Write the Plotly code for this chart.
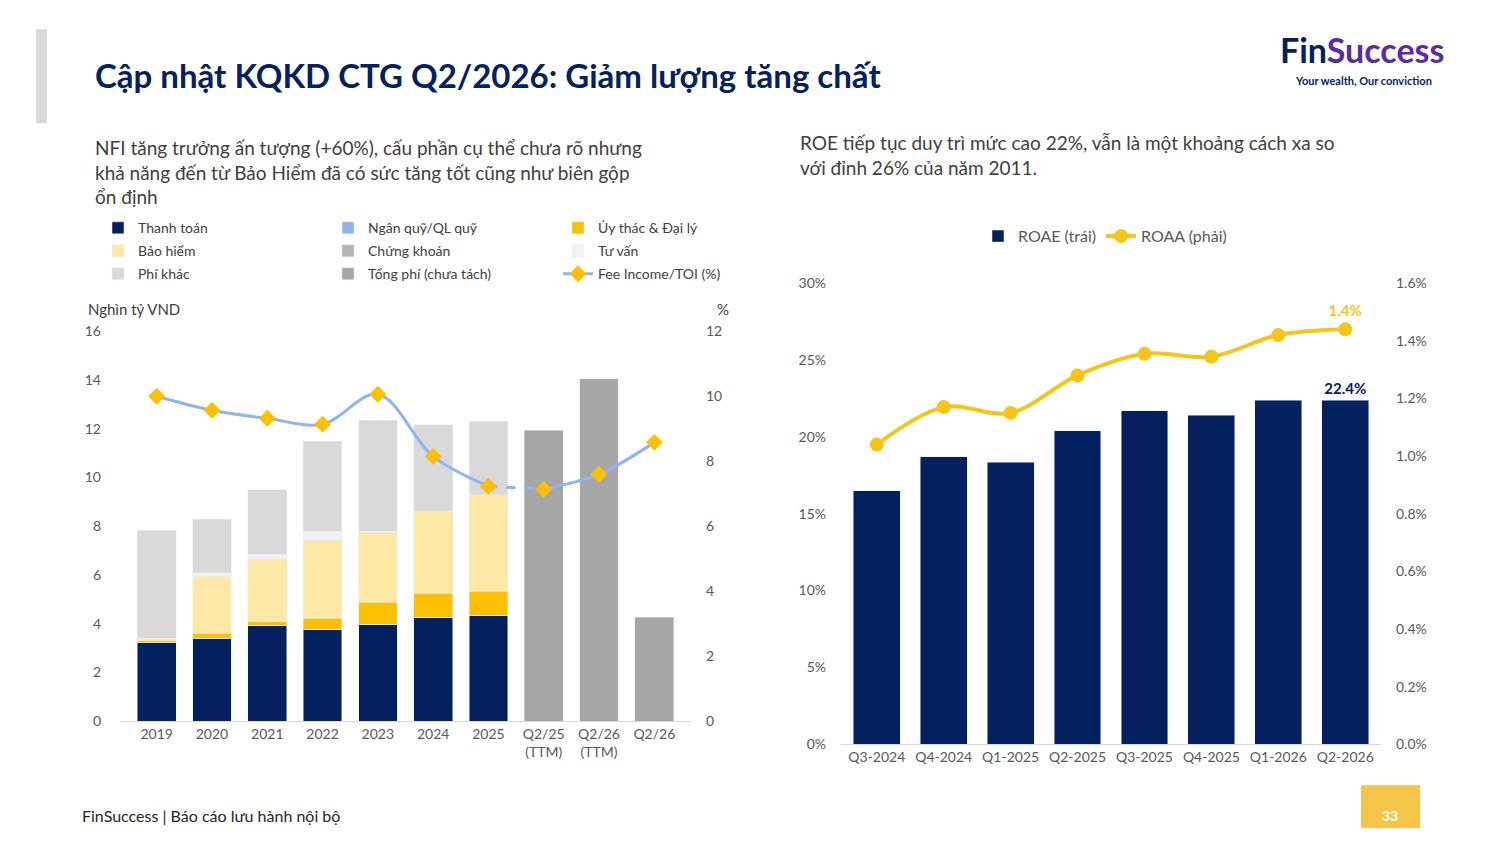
import plotly.graph_objects as go

W, H = 1484, 828

# left chart data (nghin ty VND)
years = ["2019", "2020", "2021", "2022", "2023", "2024", "2025",
         "Q2/25<br>(TTM)", "Q2/26<br>(TTM)", "Q2/26"]
thanh_toan = [3.25, 3.4, 3.93, 3.77, 3.98, 4.26, 4.34, None, None, None]
ngan_quy = [0, 0, 0, 0, 0, 0, 0, None, None, None]
uy_thac = [0.05, 0.2, 0.15, 0.45, 0.9, 0.99, 0.99, None, None, None]
bao_hiem = [0.1, 2.35, 2.56, 3.2, 2.87, 3.36, 3.97, None, None, None]
chung_khoan = [0, 0, 0, 0, 0, 0, 0, None, None, None]
tu_van = [0, 0.15, 0.21, 0.37, 0.05, 0, 0, None, None, None]
phi_khac = [4.43, 2.18, 2.65, 3.69, 4.54, 3.56, 3.0, None, None, None]
tong_phi = [None] * 7 + [11.93, 14.06, 4.26]
fee_toi = [10.0, 9.57, 9.32, 9.14, 10.06, 8.15, 7.23, 7.14, 7.6, 8.58]

# right chart data
quarters = ["Q3-2024", "Q4-2024", "Q1-2025", "Q2-2025",
            "Q3-2025", "Q4-2025", "Q1-2026", "Q2-2026"]
roae = [16.5, 18.7, 18.35, 20.4, 21.7, 21.4, 22.4, 22.4]
roaa = [1.04, 1.17, 1.15, 1.28, 1.355, 1.345, 1.42, 1.44]

NAVY = "#04205e"
BLUE = "#8fb4f0"
GOLD = "#fcc000"
FONT = "Lato"


def px(x):
    return (x - 10) / W


def py(y):
    y = y - (720 - y) * 0.021
    return 1 - (y - 1) / H


fig = go.Figure()

# each legend row is its own legend so that it has 3 columns
stack = [
    ("Thanh toán", thanh_toan, NAVY, "legend"),
    ("Ngân quỹ/QL quỹ", ngan_quy, BLUE, "legend"),
    ("Ủy thác & Đại lý", uy_thac, GOLD, "legend"),
    ("Bảo hiểm", bao_hiem, "#fde8a6", "legend3"),
    ("Chứng khoán", chung_khoan, "#b3b3b3", "legend3"),
    ("Tư vấn", tu_van, "#f2f2f2", "legend3"),
    ("Phí khác", phi_khac, "#d9d9d9", "legend4"),
    ("Tổng phí (chưa tách)", tong_phi, "#a6a6a6", "legend4"),
]
for name, vals, col, lg in stack:
    fig.add_trace(go.Bar(x=years, y=vals, name=name, marker_color=col,
                         width=0.7, xaxis="x", yaxis="y", legend=lg))

# fee income / TOI line: solid, dashed bridge, solid
fig.add_trace(go.Scatter(x=years[6:8], y=fee_toi[6:8], mode="lines",
                         line=dict(color=BLUE, width=3, dash="dash"),
                         xaxis="x", yaxis="y2", showlegend=False))
fig.add_trace(go.Scatter(x=years[7:], y=fee_toi[7:], mode="lines+markers",
                         line=dict(color=BLUE, width=3, shape="spline"),
                         marker=dict(symbol="diamond", size=13, color=GOLD),
                         xaxis="x", yaxis="y2", showlegend=False))
fig.add_trace(go.Scatter(x=years[:7], y=fee_toi[:7], mode="lines+markers",
                         name="Fee Income/TOI (%)",
                         line=dict(color=BLUE, width=3, shape="spline"),
                         marker=dict(symbol="diamond", size=13, color=GOLD),
                         xaxis="x", yaxis="y2", legend="legend4"))

# right chart
fig.add_trace(go.Bar(x=quarters, y=roae, name="ROAE (trái)", marker_color=NAVY,
                     width=0.7, xaxis="x3", yaxis="y3", legend="legend2",
                     text=[""] * 7 + [f"<b>{roae[-1]}%</b>"], textposition="outside",
                     textfont=dict(color=NAVY, size=15, family=FONT),
                     cliponaxis=False))
fig.add_trace(go.Scatter(x=quarters, y=roaa, name="ROAA (phải)",
                         mode="lines+markers+text",
                         line=dict(color="#f5c518", width=4, shape="spline"),
                         marker=dict(size=14, color="#f5c518"),
                         text=[""] * 7 + [f"<b>{roaa[-1]:.1f}%</b>"],
                         textposition="top center",
                         textfont=dict(color="#f5c518", size=15, family=FONT),
                         xaxis="x3", yaxis="y4", legend="legend2",
                         cliponaxis=False))

tickf = dict(color="#595959", size=14, family=FONT)
row = dict(orientation="h", xanchor="left", yanchor="middle", entrywidth=185,
           traceorder="normal", font=dict(size=14, color="#404040"),
           itemwidth=30, bgcolor="rgba(0,0,0,0)")
fig.update_layout(
    width=W, height=H, margin=dict(l=0, r=0, t=0, b=0),
    paper_bgcolor="white", plot_bgcolor="rgba(0,0,0,0)",
    barmode="stack",
    font=dict(family=FONT, color="#404040"),
    xaxis=dict(domain=[px(122), px(693)], anchor="y", tickfont=tickf,
               showline=True, linecolor="#d9d9d9", ticks=""),
    yaxis=dict(domain=[py(720), py(330)], range=[0, 16], dtick=2,
               showgrid=False, tickfont=tickf, ticklabelstandoff=18),
    yaxis2=dict(overlaying="y", side="right", anchor="x", range=[0, 12],
                dtick=2, showgrid=False, tickfont=tickf, ticklabelstandoff=14),
    xaxis3=dict(domain=[px(843), px(1383)], anchor="y3", tickfont=tickf,
                showline=True, linecolor="#d9d9d9", ticks=""),
    yaxis3=dict(domain=[py(743), py(282)], anchor="x3", range=[0, 30], dtick=5,
                ticksuffix="%", showgrid=False, tickfont=tickf,
                ticklabelstandoff=14),
    yaxis4=dict(overlaying="y3", side="right", anchor="x3", range=[0, 1.6],
                dtick=0.2, tickformat=".1f", ticksuffix="%", showgrid=False,
                tickfont=tickf, ticklabelstandoff=14),
    legend=dict(row, x=px(100), y=py(227)),
    legend3=dict(row, x=px(100), y=py(250)),
    legend4=dict(row, x=px(100), y=py(273)),
    legend2=dict(orientation="h", x=px(980), y=py(235), xanchor="left",
                 yanchor="middle", traceorder="normal", itemwidth=30,
                 font=dict(size=16, color="#595959")),
)

# decorations
fig.add_shape(type="rect", xref="paper", yref="paper", x0=px(38), x1=px(49),
              y0=py(122), y1=py(28), fillcolor="#d9d9d9", line_width=0)
fig.add_shape(type="rect", xref="paper", yref="paper", x0=px(1363), x1=px(1422),
              y0=0, y1=py(784), fillcolor="#f5c54a", line_width=0)

ann = [
    (95, 74, "<b>Cập nhật KQKD CTG Q2/2026: Giảm lượng tăng chất</b>", 33, NAVY, "left"),
    (95, 171, "NFI tăng trưởng ấn tượng (+60%), cấu phần cụ thể chưa rõ nhưng<br>"
              "khả năng đến từ Bảo Hiểm đã có sức tăng tốt cũng như biên gộp<br>"
              "ổn định", 19, "#404040", "left"),
    (800, 154, "ROE tiếp tục duy trì mức cao 22%, vẫn là một khoảng cách xa so<br>"
               "với đỉnh 26% của năm 2011.", 19, "#404040", "left"),
    (88, 308, "Nghìn tỷ VND", 15, "#404040", "left"),
    (733, 308, "%", 15, "#404040", "right"),
    (82, 814, "FinSuccess | Báo cáo lưu hành nội bộ", 16, "#262626", "left"),
    (1392, 814, "<b>33</b>", 14, "white", "center"),
    (1448, 48, "<b>Fin<span style='color:#5b2ca0'>Success</span></b>", 34, NAVY, "right"),
    (1436, 79, "<b>Your wealth, Our conviction</b>", 11, NAVY, "right"),
]
for x, y, t, s, c, a in ann:
    fig.add_annotation(xref="paper", yref="paper", x=px(x), y=py(y), text=t,
                       showarrow=False, xanchor=a, yanchor="middle", align="left",
                       font=dict(size=s, color=c, family=FONT))

fig.write_html("out.html")
